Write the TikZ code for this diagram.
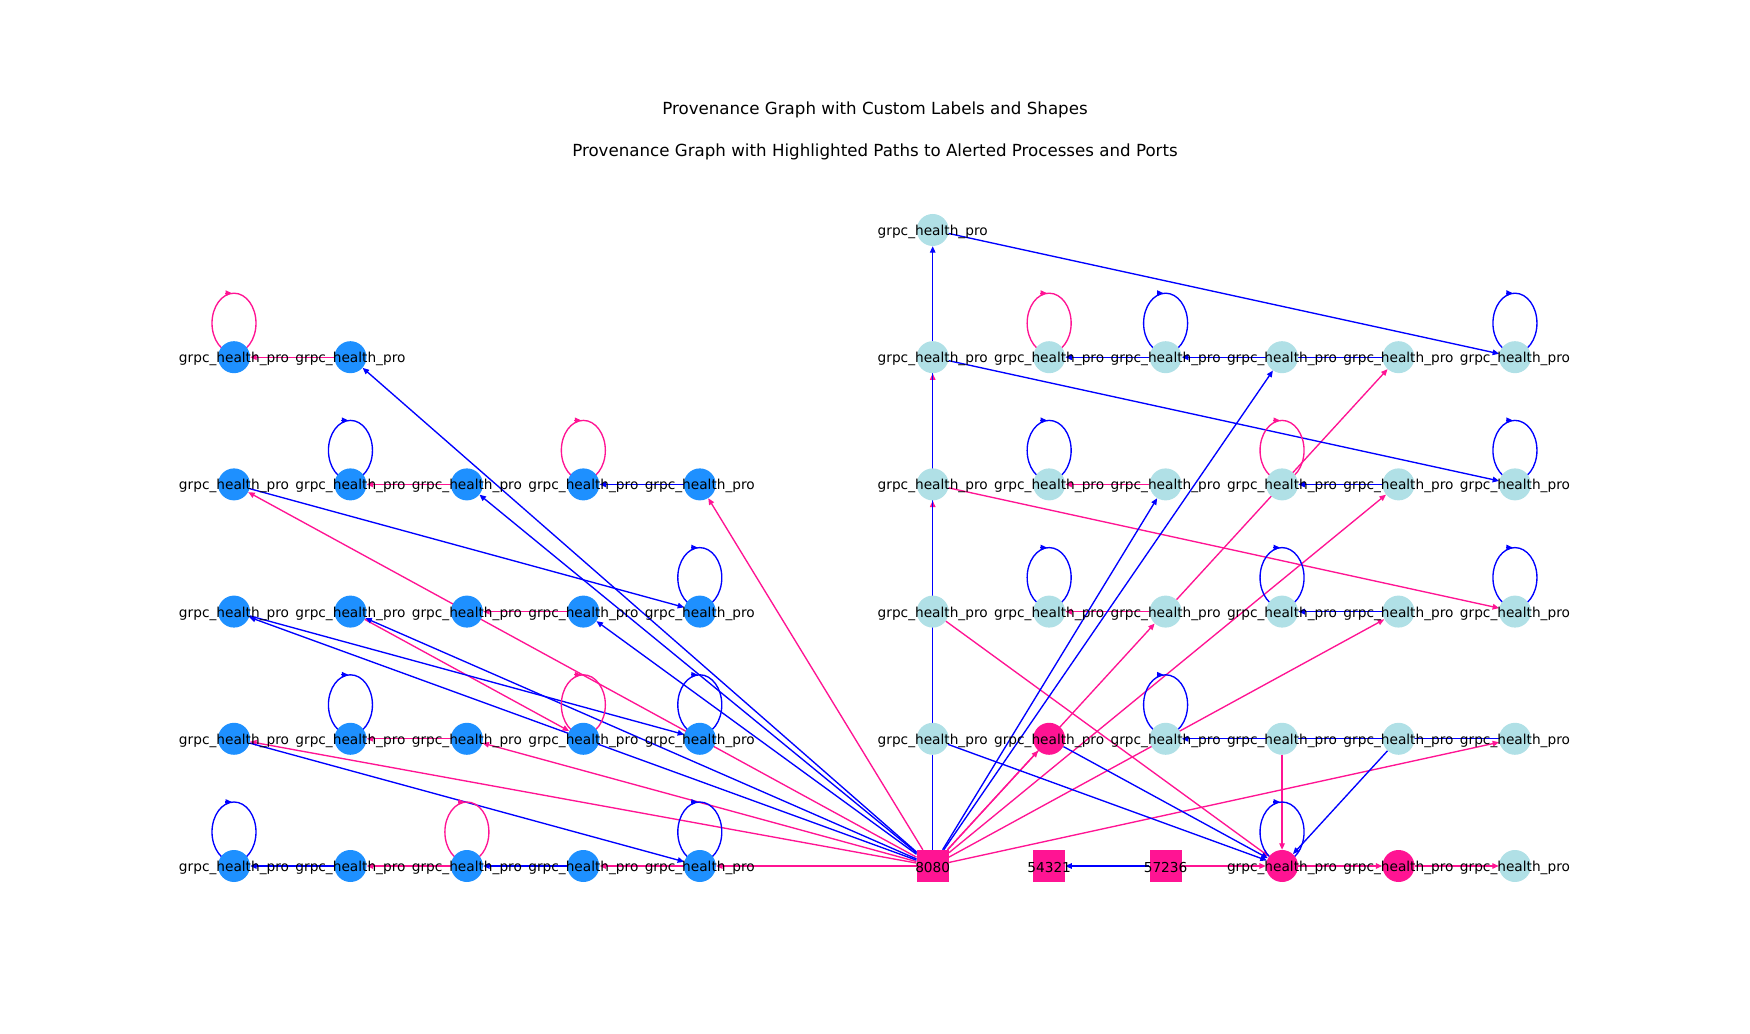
\documentclass[tikz,border=0pt]{standalone}
\usepackage{fontspec}
\setmainfont{DejaVu Sans}
\usetikzlibrary{arrows.meta}
\definecolor{dodger}{HTML}{1E90FF}
\definecolor{powder}{HTML}{B0E0E6}
\definecolor{alertpink}{HTML}{FF1493}
\pgfdeclarelayer{edges}
\pgfsetlayers{edges,main}

\begin{document}
\begin{tikzpicture}[x=116.45pt, y=127.2pt,
        proc/.style={circle, minimum size=32pt, inner sep=0pt, fill=#1,
            label={[lbl]center:grpc\_health\_pro}},
        port/.style={rectangle, minimum size=32pt, inner sep=0pt, fill=alertpink,
            label={[lbl]center:#1}},
        lbl/.style={font=\fontsize{13.7}{16}\selectfont, yshift=-2pt},
        titletext/.style={font=\fontsize{16.67}{20}\selectfont},
        flow/.style={line width=1.35pt, draw=#1, -{Triangle[length=6.5pt,width=5.5pt]}},
        loopline/.style={line width=1.35pt, draw=#1}]
    \useasboundingbox (-234pt,-167pt) rectangle (1516pt,866pt);

    \node[titletext] (title1) at (641pt,755.8pt) {Provenance Graph with Custom Labels and Shapes};
    \node[titletext] (title2) at (641pt,714.5pt) {Provenance Graph with Highlighted Paths to Alerted Processes and Ports};

    \foreach \r in {0,...,3}
        \foreach \c in {0,...,4}
            \node[proc=dodger] (c\c r\r) at (\c,\r) {};
    \node[proc=dodger] (c0r4) at (0,4) {};
    \node[proc=dodger] (c1r4) at (1,4) {};

    \foreach \r in {2,3,4}
        \foreach \c in {6,...,11}
            \node[proc=powder] (c\c r\r) at (\c,\r) {};
    \node[proc=powder] (c6r5) at (6,5) {};
    \foreach \c in {6,8,9,10,11}
        \node[proc=powder] (c\c r1) at (\c,1) {};
    \node[proc=alertpink] (c7r1) at (7,1) {};

    \node[port=8080] (p8080) at (6,0) {};
    \node[port=54321] (p54321) at (7,0) {};
    \node[port=57236] (p57236) at (8,0) {};
    \node[proc=alertpink] (c9r0) at (9,0) {};
    \node[proc=alertpink] (c10r0) at (10,0) {};
    \node[proc=powder] (c11r0) at (11,0) {};

    \begin{pgfonlayer}{edges}
        \foreach \a/\b in {p8080/c0r3, p8080/c4r3, c1r2/c3r1, p8080/c0r1, p8080/c2r1,
                p8080/c6r4, p8080/c6r3, c6r3/c11r2, c6r2/c9r0, p8080/c7r1, p8080/c8r2,
                c8r2/c10r4, p8080/c10r3, p8080/c10r2, p8080/c11r1, c9r1/c9r0,
                c1r4/c0r4, c2r3/c1r3, c3r2/c2r2, c2r1/c1r1, c2r0/c1r0, c4r0/c3r0,
                p8080/c4r0, c8r3/c7r3, c8r2/c7r2, p57236/c9r0, c9r0/c10r0, c10r0/c11r0}
            \draw[flow=alertpink] (\a) -- (\b);
        \foreach \a/\b in {p8080/c1r4, p8080/c2r3, p8080/c3r2, p8080/c1r2, p8080/c0r2,
                c0r3/c4r2, c0r2/c4r1, c0r1/c4r0, c4r3/c3r3, c1r0/c0r0, c3r0/c2r0,
                p8080/c6r5, c6r5/c11r4, c6r4/c11r3, p8080/c9r4, p8080/c8r3,
                c6r1/c9r0, c7r1/c9r0, c10r1/c9r0, c8r4/c7r4, c10r4/c8r4,
                c10r3/c9r3, c10r2/c9r2, c11r1/c8r1, p57236/p54321}
            \draw[flow=blue] (\a) -- (\b);

        \foreach \n/\col in {c0r4/alertpink, c1r3/blue, c3r3/alertpink, c4r2/blue,
                c1r1/blue, c3r1/alertpink, c4r1/blue, c0r0/blue, c2r0/alertpink, c4r0/blue,
                c7r4/alertpink, c8r4/blue, c11r4/blue, c7r3/blue, c9r3/alertpink, c11r3/blue,
                c7r2/blue, c9r2/blue, c11r2/blue, c8r1/blue, c9r0/blue} {
            \draw[loopline=\col] ([yshift=34pt]\n.center) ellipse [x radius=22pt, y radius=30pt];
            \draw[flow=\col] ([xshift=-9pt,yshift=64pt]\n.center) -- ([xshift=-2pt,yshift=64pt]\n.center);
        }
    \end{pgfonlayer}
\end{tikzpicture}
\end{document}
